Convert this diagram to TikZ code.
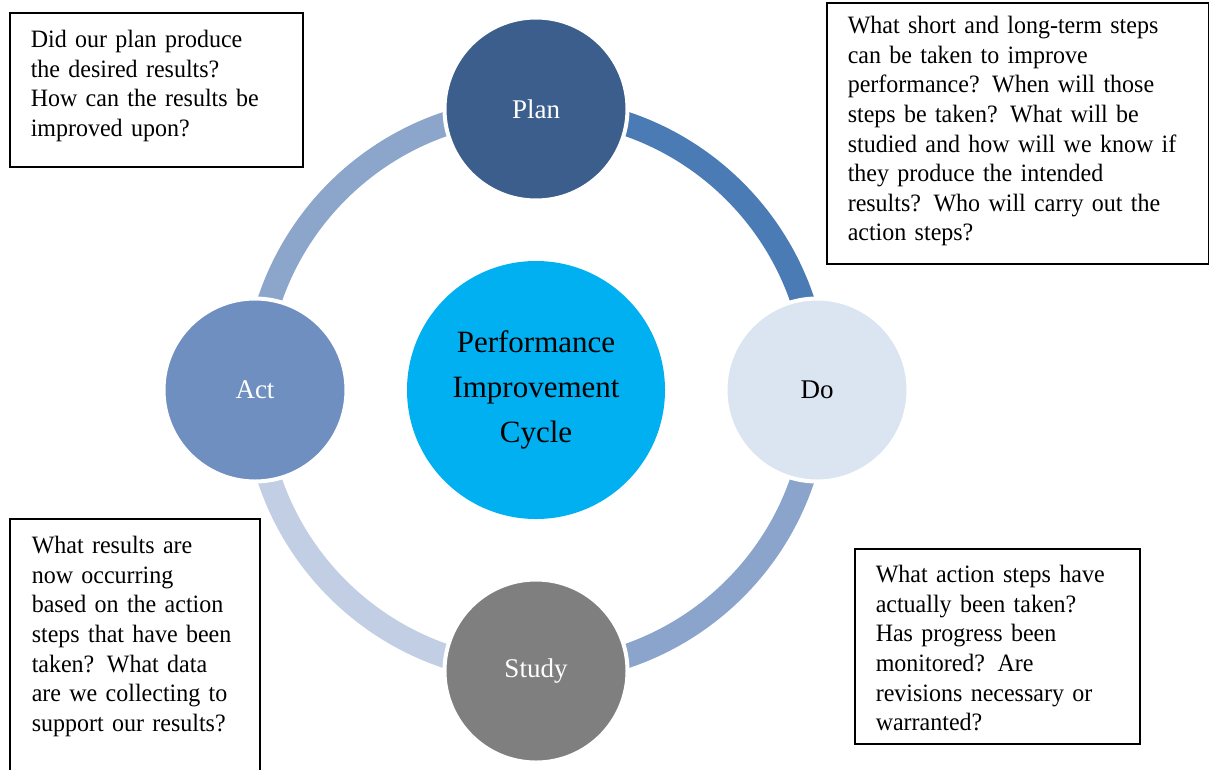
\documentclass[tikz,border=0pt]{standalone}
\usepackage{fontspec}
\setmainfont{Liberation Serif}
\newfontfamily\notefamily[FakeStretch=0.96]{Liberation Serif}
\usetikzlibrary{positioning,backgrounds}

\definecolor{planblue}{HTML}{3B5E8C}
\definecolor{dopale}{HTML}{DBE5F1}
\definecolor{studygrey}{HTML}{7F7F7F}
\definecolor{actblue}{HTML}{6F8FC1}
\definecolor{hubcyan}{HTML}{00B0F0}
\definecolor{plandoarc}{HTML}{4A7BB4}
\definecolor{dostudyarc}{HTML}{8AA4CB}
\definecolor{studyactarc}{HTML}{C2CEE3}
\definecolor{actplanarc}{HTML}{8CA5CB}

\newcommand{\notefont}{\notefamily\fontsize{25}{29.6}\selectfont}
\tikzset{node distance = 281pt,
  phase/.style = {circle, draw=white, line width=4pt, minimum size=183pt,
                  inner sep=0pt, font=\fontsize{27}{32}\selectfont},
  hub/.style   = {circle, fill=hubcyan, minimum size=258pt, inner sep=0pt,
                  align=center, font=\fontsize{31}{45}\selectfont},
  ring/.style  = {line width=24pt},
  note/.style  = {draw, line width=1.5pt, fill=white, anchor=north west,
                  align=left, inner ysep=0pt, font=\notefont}}

\begin{document}
\begin{tikzpicture}[x=1pt, y=-1pt, on grid]
	\useasboundingbox (0,0) rectangle (1209,769);
	\node[hub] (hub) at (536,390) {Performance\\Improvement\\Cycle};
	\node[phase, fill=planblue, text=white, above=of hub] (plan) {Plan};
	\node[phase, fill=dopale, right=of hub] (do) {Do};
	\node[phase, fill=studygrey, text=white, below=of hub] (study) {Study};
	\node[phase, fill=actblue, text=white, left=of hub] (act) {Act};
	\begin{scope}[on background layer]
	\draw[ring, plandoarc] (do.center) arc[start angle=0, end angle=90, radius=281pt];
	\draw[ring, actplanarc] (plan.center) arc[start angle=90, end angle=180, radius=281pt];
	\draw[ring, studyactarc] (act.center) arc[start angle=180, end angle=270, radius=281pt];
	\draw[ring, dostudyarc] (study.center) arc[start angle=270, end angle=360, radius=281pt];
	\end{scope}
	\node[note, text width=251pt, inner xsep=21pt, text height=35pt, text depth=119pt] (actq) at (9,12)
		{Did our plan produce\\the desired results?\\How can the results be\\improved upon?};
	\node[note, text width=340pt, inner xsep=21pt, text height=31pt, text depth=230pt] (planq) at (826,2)
		{What short and long-term steps\\can be taken to improve\\performance? When will those\\steps be taken? What will be\\studied and how will we know if\\they produce the intended\\results? Who will carry out the\\action steps?};
	\node[note, text width=206pt, inner xsep=22pt, text height=35pt, text depth=280pt] (studyq) at (9,518)
		{What results are\\now occurring\\based on the action\\steps that have been\\taken? What data\\are we collecting to\\support our results?};
	\node[note, text width=243pt, inner xsep=21pt, text height=34pt, text depth=161pt] (doq) at (854,548)
		{What action steps have\\actually been taken?\\Has progress been\\monitored? Are\\revisions necessary or\\warranted?};
\end{tikzpicture}
\end{document}
